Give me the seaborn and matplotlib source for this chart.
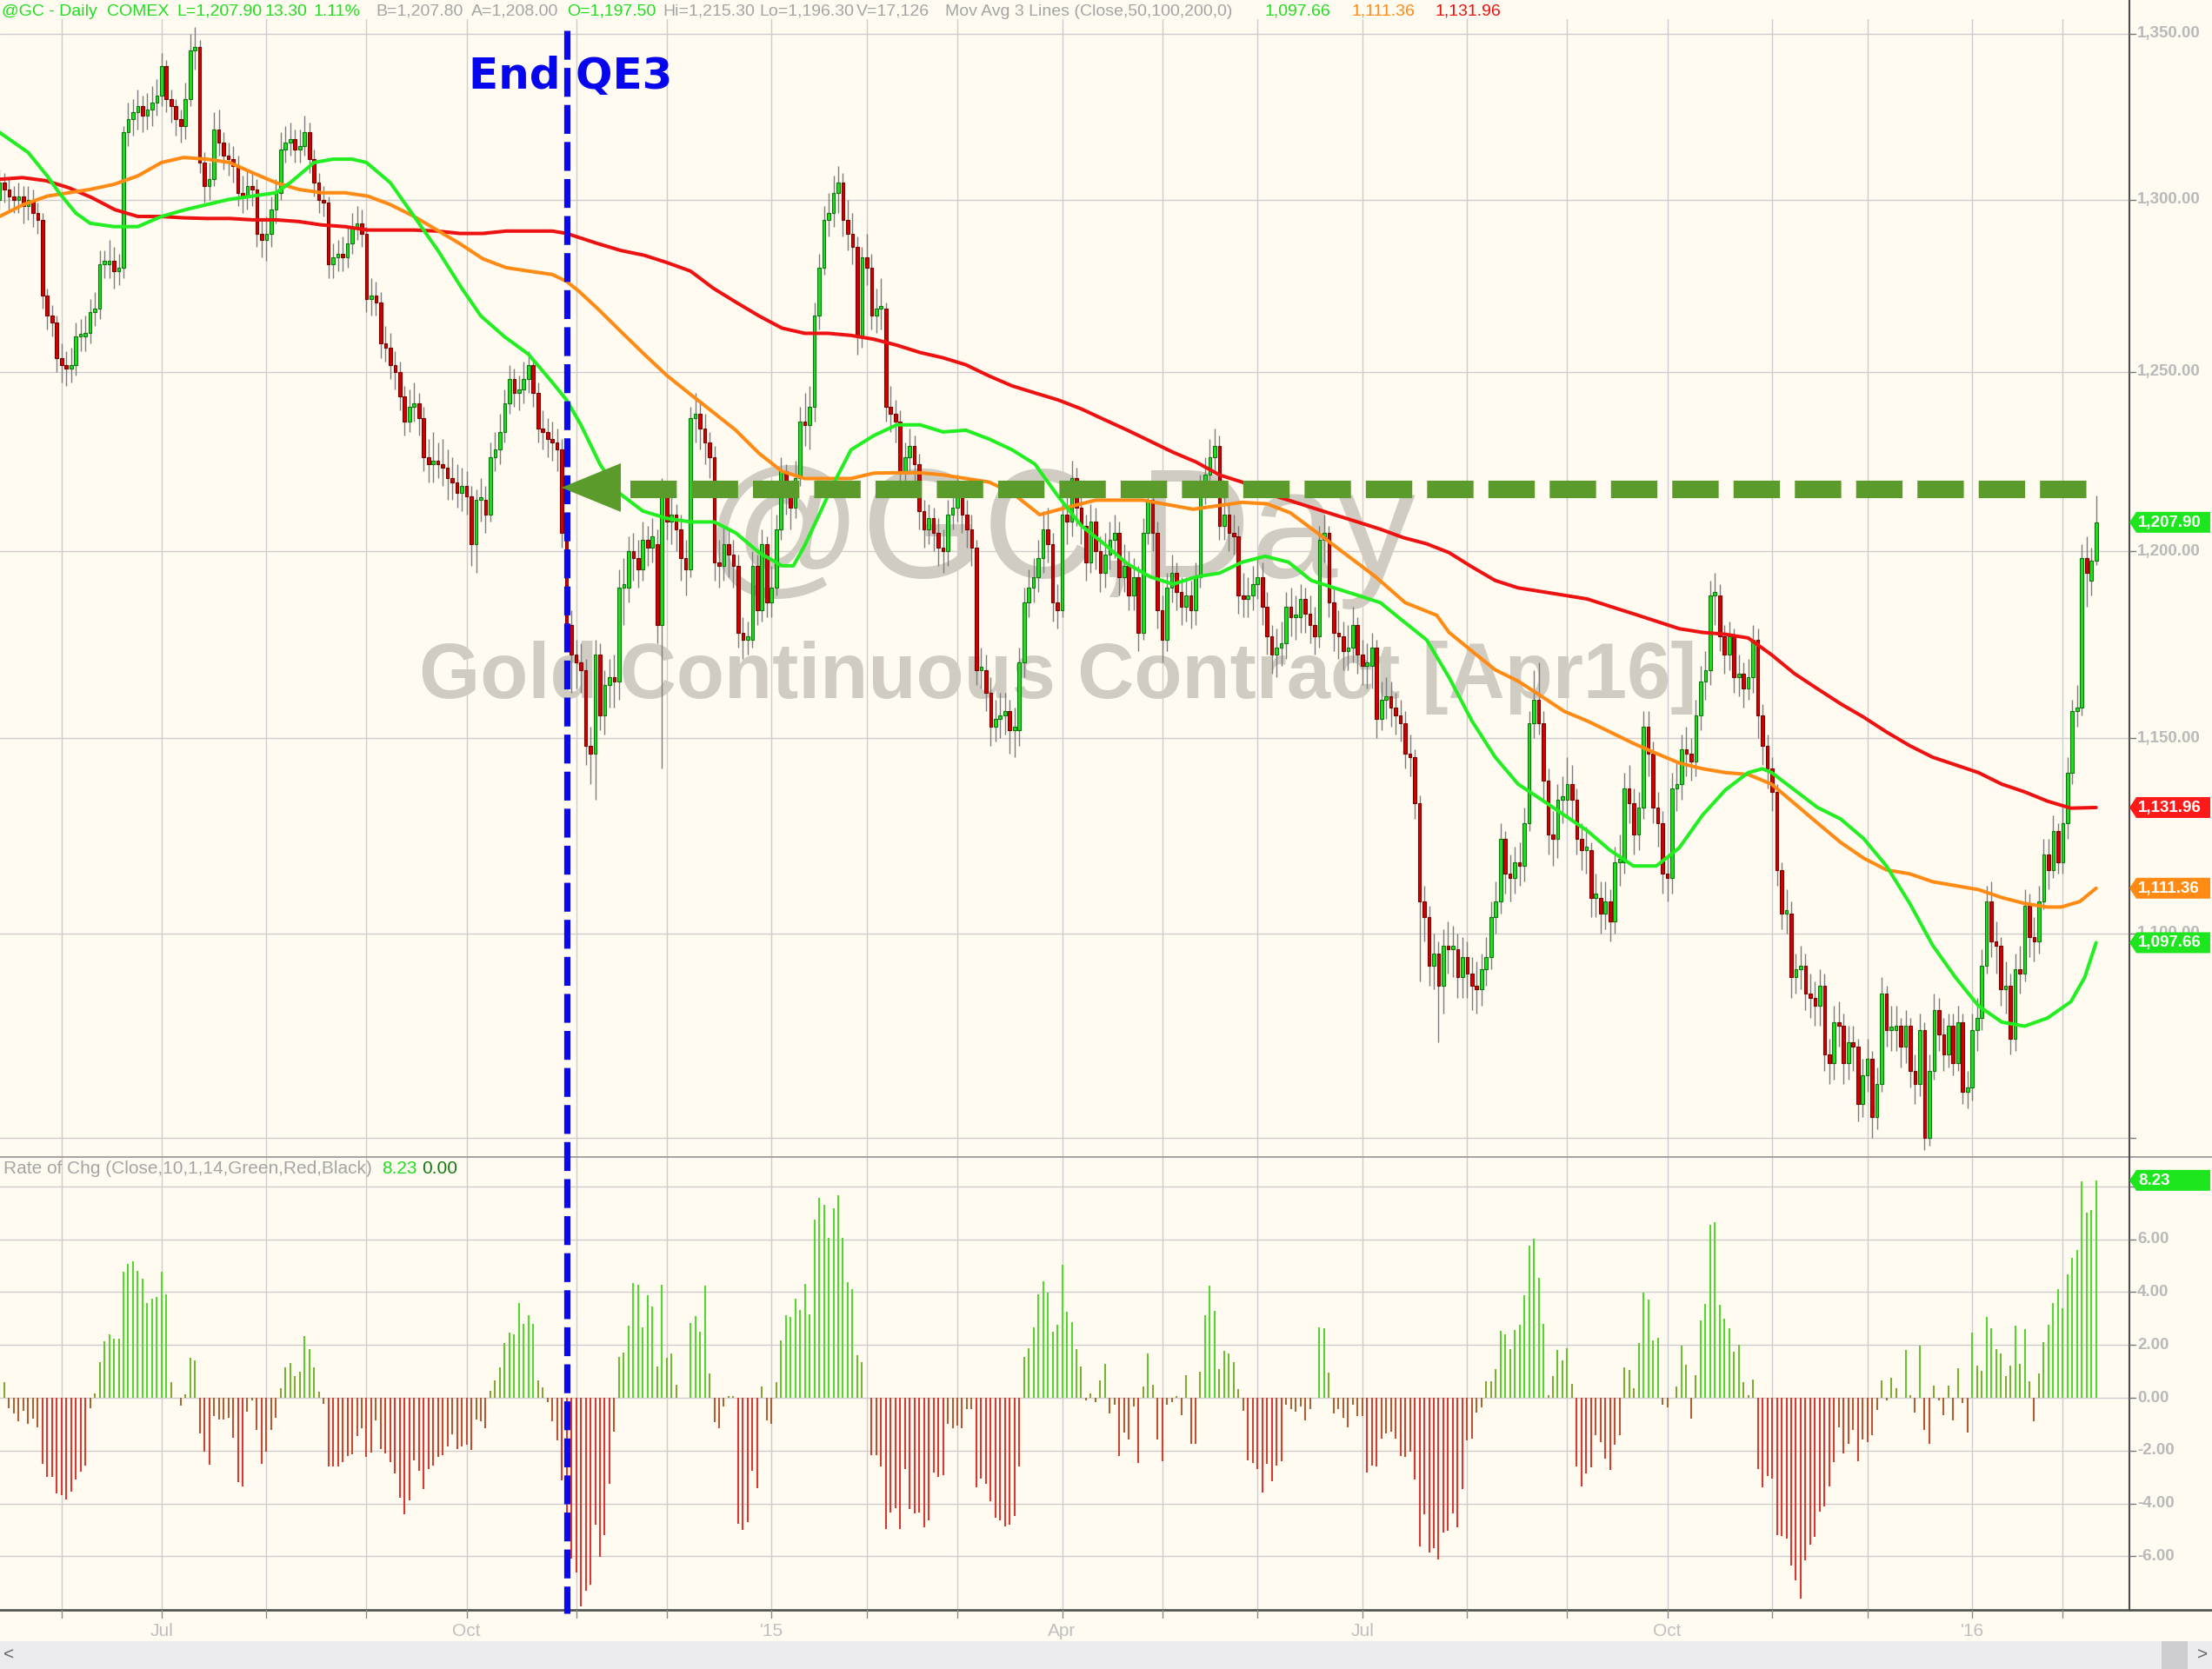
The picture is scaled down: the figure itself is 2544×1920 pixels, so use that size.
import numpy as np
import pandas as pd
import matplotlib
matplotlib.use("Agg")
import matplotlib.pyplot as plt
import seaborn as sns
from matplotlib import font_manager
from matplotlib.patches import Polygon, Rectangle
from matplotlib.colors import to_rgb

sns.set_theme(style="white")
plt.rcParams['font.family'] = ['Liberation Sans', 'DejaVu Sans']

# ---------------- data ----------------
start_date = '2014-05-13'
holidays = ['2014-05-26', '2014-07-04', '2014-09-01', '2014-11-27', '2014-12-25',
            '2015-01-01', '2015-01-19', '2015-02-16', '2015-04-03', '2015-05-25',
            '2015-07-03', '2015-09-07', '2015-11-26', '2015-12-25',
            '2016-01-01', '2016-01-18']

close = [1305,1303,1301,1300,1301,1298,1300,1296,1294,1272,
         1266,1264,1254,1252,1251,1252,1260,1260,1261,1267,
         1268,1281,1281,1282,1279,1280,1320,1324,1326,1328,
         1325,1327,1329,1331,1340,1330,1328,1324,1322,1330,
         1345,1346,1311,1304,1306,1321,1317,1313,1312,1310,
         1302,1301,1304,1303,1290,1288,1290,1297,1302,1315,
         1317,1318,1315,1316,1320,1312,1305,1300,1299,1281,
         1283,1284,1283,1287,1292,1293,1290,1271,1272,1270,
         1258,1257,1252,1250,1243,1236,1240,1241,1237,1226,
         1224,1225,1224,1223,1220,1219,1216,1218,1215,1202,
         1214,1214,1210,1226,1228,1233,1241,1248,1244,1245,
         1248,1252,1244,1234,1233,1231,1230,1228,1205,1180,
         1172,1170,1168,1148,1146,1172,1156,1164,1166,1165,
         1190,1190,1200,1198,1195,1203,1201,1204,1180,1215,
         1208,1210,1206,1198,1195,1237,1238,1234,1230,1226,
         1197,1196,1202,1199,1196,1178,1176,1176,1196,1184,
         1202,1186,1190,1206,1222,1215,1212,1220,1236,1235,
         1240,1266,1280,1294,1296,1302,1305,1294,1290,1286,
         1260,1283,1280,1266,1268,1268,1240,1238,1236,1222,
         1226,1229,1224,1211,1206,1209,1205,1201,1200,1210,
         1212,1216,1210,1206,1201,1168,1168,1162,1153,1155,
         1156,1157,1152,1152,1170,1186,1190,1193,1198,1206,
         1202,1186,1184,1210,1208,1220,1212,1207,1197,1208,
         1200,1194,1199,1203,1205,1193,1196,1188,1193,1178,
         1205,1214,1205,1184,1176,1190,1194,1189,1185,1188,
         1184,1193,1217,1221,1226,1229,1207,1210,1205,1204,
         1188,1187,1188,1191,1193,1185,1177,1172,1174,1175,
         1185,1182,1182,1187,1183,1180,1177,1203,1205,1186,
         1178,1177,1173,1174,1180,1172,1169,1169,1174,1155,
         1160,1161,1158,1156,1154,1146,1145,1133,1108,1104,
         1092,1095,1087,1097,1096,1096,1089,1094,1090,1087,
         1086,1091,1094,1104,1108,1124,1115,1114,1118,1117,
         1128,1154,1160,1154,1139,1125,1124,1134,1134,1138,
         1134,1124,1121,1121,1109,1109,1105,1108,1103,1118,
         1118,1137,1133,1125,1132,1153,1146,1132,1128,1115,
         1114,1137,1138,1147,1146,1144,1156,1165,1168,1188,
         1188,1177,1172,1177,1166,1167,1163,1166,1176,1156,
         1148,1142,1136,1116,1105,1105,1089,1091,1092,1085,
         1084,1082,1087,1070,1068,1078,1077,1068,1073,1072,
         1058,1065,1069,1055,1063,1085,1076,1076,1077,1072,
         1077,1066,1063,1076,1050,1066,1081,1075,1070,1077,
         1068,1078,1061,1062,1076,1079,1092,1108,1098,1097,
         1086,1087,1074,1091,1090,1107,1099,1098,1108,1120,
         1116,1126,1118,1128,1141,1157,1158,1198,1194,1197.5,
         1207.9]

open_ = [1300,1305,1303,1301,1300,1301,1298,1300,1296,1294,
         1272,1266,1264,1254,1252,1251,1252,1260,1260,1261,
         1267,1268,1281,1281,1282,1279,1280,1320,1324,1326,
         1328,1325,1327,1329,1331,1340,1330,1328,1324,1322,
         1330,1345,1346,1311,1304,1306,1321,1317,1313,1312,
         1310,1302,1301,1304,1303,1290,1288,1290,1297,1302,
         1315,1317,1318,1315,1316,1320,1312,1305,1300,1299,
         1281,1283,1284,1283,1287,1292,1293,1290,1271,1272,
         1270,1258,1257,1252,1250,1243,1236,1240,1241,1237,
         1226,1224,1225,1224,1223,1220,1219,1216,1218,1215,
         1202,1214,1214,1210,1226,1228,1233,1241,1248,1244,
         1245,1248,1252,1244,1234,1233,1231,1230,1228,1205,
         1180,1172,1170,1168,1148,1146,1172,1156,1164,1166,
         1165,1190,1190,1200,1198,1195,1203,1201,1202,1180,
         1215,1208,1210,1206,1198,1195,1237,1238,1234,1230,
         1226,1197,1196,1202,1199,1196,1178,1176,1176,1196,
         1184,1202,1186,1190,1206,1222,1215,1212,1220,1236,
         1235,1240,1266,1280,1294,1296,1302,1305,1294,1290,
         1286,1260,1283,1280,1266,1268,1268,1240,1238,1236,
         1222,1226,1229,1224,1211,1206,1209,1205,1201,1200,
         1210,1212,1216,1210,1206,1201,1168,1168,1162,1153,
         1155,1156,1157,1152,1152,1170,1186,1190,1193,1198,
         1206,1202,1186,1184,1210,1208,1220,1212,1207,1197,
         1208,1200,1194,1199,1203,1205,1193,1196,1188,1193,
         1178,1205,1214,1205,1184,1176,1190,1194,1189,1185,
         1188,1184,1193,1217,1221,1226,1229,1207,1210,1205,
         1204,1188,1187,1188,1191,1193,1185,1177,1172,1174,
         1175,1185,1182,1182,1187,1183,1180,1177,1203,1205,
         1186,1178,1177,1173,1174,1180,1172,1169,1169,1174,
         1155,1160,1161,1158,1156,1154,1146,1145,1133,1108,
         1104,1092,1095,1087,1097,1096,1096,1089,1094,1090,
         1087,1086,1091,1094,1104,1108,1124,1115,1114,1118,
         1117,1128,1154,1160,1154,1139,1125,1124,1134,1134,
         1138,1134,1124,1121,1121,1109,1109,1105,1108,1103,
         1118,1118,1137,1133,1125,1132,1153,1146,1132,1128,
         1115,1114,1137,1138,1147,1146,1144,1156,1165,1168,
         1188,1188,1177,1172,1177,1166,1167,1163,1166,1176,
         1156,1148,1142,1136,1116,1105,1105,1089,1091,1092,
         1085,1084,1082,1087,1070,1068,1078,1077,1068,1073,
         1072,1058,1065,1069,1055,1063,1085,1076,1076,1077,
         1072,1077,1066,1063,1076,1050,1066,1081,1075,1070,
         1077,1068,1078,1061,1062,1076,1079,1092,1108,1098,
         1097,1086,1087,1074,1091,1090,1107,1099,1098,1108,
         1120,1116,1126,1118,1128,1141,1157,1158,1198,1192,
         1197.5]

high = [1309,1308,1306,1304,1305,1304,1304,1303,1299,1296,
        1274,1269,1266,1258,1256,1257,1264,1265,1266,1271,
        1273,1285,1285,1288,1286,1284,1322,1329,1330,1333,
        1331,1332,1334,1336,1344,1342,1333,1330,1327,1335,
        1350,1352,1348,1314,1311,1326,1327,1320,1317,1316,
        1313,1307,1309,1308,1306,1294,1295,1301,1306,1320,
        1322,1323,1321,1321,1325,1323,1315,1308,1304,1301,
        1287,1288,1289,1292,1296,1298,1297,1292,1277,1276,
        1273,1263,1261,1256,1253,1246,1245,1247,1244,1240,
        1231,1233,1230,1231,1228,1226,1224,1223,1222,1218,
        1217,1220,1218,1230,1233,1238,1245,1252,1251,1249,
        1253,1256,1254,1247,1239,1237,1236,1234,1231,1208,
        1184,1176,1175,1171,1153,1176,1175,1168,1171,1172,
        1195,1198,1204,1205,1203,1208,1207,1209,1206,1220,
        1219,1215,1213,1210,1203,1240,1244,1242,1238,1233,
        1229,1203,1207,1206,1203,1199,1182,1181,1200,1199,
        1206,1204,1196,1210,1226,1224,1219,1225,1240,1244,
        1246,1270,1284,1298,1302,1307,1310,1308,1300,1296,
        1289,1286,1290,1284,1274,1277,1270,1246,1242,1239,
        1230,1234,1232,1227,1214,1213,1212,1209,1206,1214,
        1217,1221,1219,1214,1210,1203,1174,1172,1166,1160,
        1162,1162,1160,1158,1174,1190,1195,1198,1203,1211,
        1212,1205,1191,1214,1215,1225,1223,1216,1210,1213,
        1212,1204,1205,1208,1210,1208,1202,1200,1198,1196,
        1209,1218,1216,1208,1188,1194,1199,1197,1193,1193,
        1192,1197,1221,1226,1231,1234,1232,1215,1213,1210,
        1207,1194,1193,1196,1198,1197,1189,1180,1179,1181,
        1189,1190,1188,1191,1190,1188,1185,1207,1210,1207,
        1190,1184,1181,1180,1185,1182,1176,1175,1178,1176,
        1165,1166,1165,1162,1160,1157,1151,1147,1135,1112,
        1107,1100,1098,1101,1103,1102,1100,1099,1098,1094,
        1093,1095,1099,1108,1113,1128,1126,1120,1122,1123,
        1132,1157,1168,1170,1157,1142,1131,1138,1140,1145,
        1143,1137,1128,1127,1123,1115,1113,1113,1111,1122,
        1125,1141,1143,1137,1136,1157,1157,1149,1136,1131,
        1120,1141,1144,1151,1153,1150,1160,1169,1173,1192,
        1194,1191,1180,1181,1179,1172,1170,1171,1180,1179,
        1159,1151,1145,1138,1118,1111,1108,1095,1097,1095,
        1090,1088,1091,1090,1074,1082,1083,1080,1077,1077,
        1074,1069,1074,1071,1067,1089,1087,1082,1082,1079,
        1081,1079,1070,1080,1078,1070,1085,1084,1079,1080,
        1080,1082,1080,1066,1080,1084,1096,1112,1113,1103,
        1099,1093,1090,1095,1097,1111,1110,1104,1112,1124,
        1124,1130,1128,1132,1145,1160,1164,1202,1204,1201,
        1215.3]

low = [1297,1299,1297,1296,1296,1293,1294,1292,1290,1268,
       1262,1260,1250,1247,1246,1247,1249,1256,1256,1258,
       1263,1265,1277,1277,1274,1275,1277,1316,1319,1321,
       1320,1321,1322,1325,1328,1326,1323,1319,1317,1318,
       1328,1339,1308,1299,1300,1304,1313,1309,1307,1305,
       1298,1296,1297,1298,1286,1283,1282,1286,1293,1300,
       1311,1313,1311,1311,1313,1308,1301,1296,1295,1277,
       1277,1279,1279,1280,1284,1288,1286,1267,1266,1266,
       1254,1253,1248,1245,1239,1232,1233,1236,1232,1222,
       1219,1219,1220,1218,1214,1214,1212,1211,1210,1196,
       1194,1208,1205,1208,1222,1224,1230,1238,1240,1239,
       1241,1244,1240,1230,1228,1226,1225,1222,1201,1176,
       1162,1163,1162,1143,1138,1134,1152,1151,1158,1158,
       1160,1180,1186,1192,1190,1192,1196,1197,1175,1142,
       1203,1202,1200,1192,1188,1193,1230,1228,1224,1220,
       1192,1190,1192,1193,1190,1174,1171,1172,1174,1180,
       1181,1182,1182,1188,1203,1210,1206,1209,1218,1229,
       1228,1236,1262,1278,1289,1292,1296,1289,1285,1281,
       1255,1257,1275,1262,1261,1262,1236,1233,1230,1218,
       1218,1222,1219,1206,1201,1202,1200,1196,1194,1196,
       1206,1208,1205,1201,1196,1164,1163,1157,1148,1149,
       1150,1151,1146,1145,1148,1166,1182,1186,1189,1194,
       1197,1181,1179,1182,1202,1204,1207,1202,1192,1194,
       1195,1189,1190,1195,1198,1188,1189,1184,1184,1173,
       1176,1202,1200,1179,1170,1173,1186,1184,1180,1181,
       1179,1180,1190,1213,1217,1222,1203,1203,1200,1199,
       1183,1182,1182,1184,1187,1180,1172,1167,1166,1169,
       1171,1177,1176,1178,1178,1175,1172,1174,1197,1182,
       1173,1171,1168,1168,1170,1167,1164,1163,1163,1150,
       1152,1155,1153,1151,1149,1142,1140,1129,1088,1098,
       1087,1086,1073,1080,1090,1089,1084,1084,1084,1081,
       1080,1082,1087,1091,1100,1105,1110,1108,1110,1112,
       1113,1126,1150,1151,1134,1120,1117,1119,1128,1130,
       1129,1120,1116,1115,1104,1104,1100,1101,1098,1100,
       1112,1115,1128,1120,1121,1129,1140,1128,1122,1110,
       1108,1110,1131,1134,1140,1139,1140,1152,1160,1164,
       1180,1173,1167,1168,1162,1161,1158,1160,1162,1150,
       1143,1137,1131,1112,1101,1100,1084,1085,1086,1081,
       1079,1077,1077,1066,1063,1064,1072,1063,1064,1066,
       1054,1055,1061,1050,1052,1061,1072,1071,1071,1067,
       1068,1062,1058,1060,1047,1048,1064,1071,1066,1067,
       1065,1066,1058,1057,1059,1071,1076,1090,1094,1090,
       1082,1080,1070,1071,1085,1088,1094,1093,1095,1106,
       1111,1114,1115,1115,1124,1138,1153,1156,1185,1188,
       1196.3]

# 10-day rate of change (%)
roc = [0.7,0.6,-0.4,-0.6,-0.9,-0.5,-1.0,-0.8,-1.1,-2.5,
       -2.99,-2.99,-3.61,-3.69,-3.84,-3.54,-3.08,-2.78,-2.55,-0.39,
       0.16,1.34,2.15,2.40,2.24,2.24,4.76,5.08,5.15,4.81,
       4.50,3.59,3.75,3.82,4.77,3.91,0.61,0.00,-0.30,0.15,
       1.51,1.43,-1.35,-2.03,-2.54,-0.68,-0.83,-0.83,-0.76,-1.50,
       -3.20,-3.34,-0.53,-0.08,-1.23,-2.50,-2.05,-1.22,-0.76,0.38,
       1.15,1.31,0.84,1.00,2.33,1.86,1.16,0.23,-0.23,-2.59,
       -2.58,-2.58,-2.43,-2.20,-2.12,-1.45,-1.15,-2.23,-2.08,-0.86,
       -1.95,-2.10,-2.42,-2.87,-3.79,-4.41,-3.88,-2.36,-2.75,-3.46,
       -2.70,-2.55,-2.24,-2.16,-1.85,-1.38,-1.94,-1.85,-1.78,-1.96,
       -0.82,-0.90,-1.14,0.25,0.66,1.15,2.06,2.46,2.39,3.58,
       2.80,3.13,2.81,0.65,0.41,-0.16,-0.89,-1.60,-3.13,-5.22,
       -6.09,-6.60,-7.90,-7.30,-7.06,-4.79,-6.02,-5.21,-3.24,-1.27,
       1.54,1.71,2.74,4.36,4.28,2.65,3.89,3.44,1.20,4.29,
       1.51,1.68,0.50,0.00,0.00,2.83,3.08,2.49,4.24,0.91,
       -0.91,-1.16,-0.33,0.08,0.08,-4.77,-5.01,-4.70,-2.76,-3.43,
       0.42,-0.84,-1.00,0.58,2.17,3.14,3.06,3.74,3.34,4.31,
       3.16,6.75,7.56,7.30,6.06,7.16,7.67,6.07,4.37,4.13,
       1.61,1.34,0.00,-2.16,-2.16,-2.61,-4.98,-4.33,-4.19,-4.98,
       -2.70,-4.21,-4.38,-4.34,-4.89,-4.65,-2.82,-2.99,-2.91,-0.98,
       -1.14,-1.06,-1.14,-0.41,-0.41,-3.39,-3.07,-3.25,-3.92,-4.55,
       -4.62,-4.85,-4.79,-4.48,-2.58,1.54,1.88,2.67,3.90,4.42,
       3.98,2.51,2.78,5.03,3.25,2.87,1.85,1.17,-0.08,0.17,
       -0.17,0.67,1.27,-0.58,-0.25,-2.21,-1.32,-1.57,-0.33,-2.48,
       0.42,1.68,0.50,-1.58,-2.41,-0.25,-0.17,0.08,-0.67,0.85,
       -1.74,-1.73,1.00,3.13,4.25,3.28,1.09,1.77,1.69,1.35,
       0.34,-0.50,-2.38,-2.46,-2.69,-3.58,-2.49,-3.14,-2.57,-2.41,
       -0.25,-0.42,-0.51,-0.34,-0.84,-0.42,0.00,2.65,2.64,0.94,
       -0.59,-0.42,-0.76,-1.10,-0.25,-0.68,-0.68,-2.83,-2.57,-2.61,
       -1.53,-1.36,-1.28,-1.53,-2.20,-2.22,-2.05,-3.08,-5.62,-4.42,
       -5.86,-5.68,-6.13,-5.10,-5.03,-4.36,-4.89,-3.44,-1.62,-1.54,
       -0.55,-0.37,0.64,0.64,1.09,2.55,2.39,1.83,2.57,2.76,
       3.87,5.77,6.03,4.53,2.80,0.09,0.81,1.80,1.43,1.88,
       0.53,-2.60,-3.36,-2.86,-2.63,-1.42,-1.69,-2.29,-2.73,-1.76,
       -1.41,1.16,1.07,0.36,2.07,3.97,3.71,2.17,2.27,-0.27,
       -0.36,0.00,0.44,1.96,1.24,-0.78,0.87,2.92,3.55,6.55,
       6.64,3.52,2.99,2.62,1.75,2.01,0.61,0.09,0.68,-2.69,
       -3.37,-2.97,-3.07,-5.18,-5.23,-5.31,-6.36,-6.90,-7.60,-6.14,
       -5.57,-5.25,-4.31,-4.12,-3.35,-2.44,-1.10,-2.11,-1.74,-1.20,
       -2.40,-1.57,-1.66,-1.40,-0.47,0.65,-0.09,0.75,0.37,0.00,
       1.80,0.09,-0.56,1.99,-1.22,-1.75,0.46,-0.09,-0.65,0.47,
       -0.84,1.13,-0.19,-1.30,2.48,1.22,1.02,3.07,2.62,1.86,
       1.69,0.83,1.23,2.73,1.30,2.59,0.64,-0.90,0.91,2.10,
       2.76,3.59,4.10,3.39,4.68,5.30,5.60,8.20,7.00,7.10,
       8.23]

# moving averages (bar index, value)
ma50_x = [0,6,10,12.5,16,19,24,29,34,39,43.5,48,53,58,61,66,70,74,77,82,87,92,97,101,106,111,116,119,122,126,130,135,140,145,150,154.5,159.4,164.2,166.6,169,172,174.8,178.7,183.5,188.3,193.2,198,202.8,207.7,212.5,217.3,222.2,227,231.8,236.7,241.5,246.3,251.1,256,260.8,265.6,270.5,275.3,280.1,285,289.8,294.6,299.5,304.2,309,313.9,318.7,323.6,328.4,333.2,338,342.9,347.7,352.5,357.4,362.2,367,370,371.9,376.7,381.5,386.4,391.2,396,400.9,405.7,410.5,415.3,420.2,425,429.8,434.7,437.6,440]
ma50_y = [1320,1314,1307,1302,1296,1293,1292,1292,1295,1297,1298.5,1300,1301,1302,1305,1311,1312,1312,1311,1305,1295,1285,1274,1266,1260,1255,1247,1242,1235,1224,1216,1211,1209,1208,1208,1205,1199.6,1196,1196,1201.6,1210,1218,1228,1232,1235,1235,1233,1233.5,1231,1228,1224,1215,1207,1202,1196.5,1193,1191,1193,1194,1197,1198.6,1197,1192,1190,1188,1186,1181,1176,1166,1154.5,1145,1138,1134,1130,1126,1121,1117,1117,1121.6,1130,1136.5,1141,1142,1141,1136.5,1132,1129,1124,1117,1107.5,1097,1089,1082,1078,1077,1079,1083,1089,1097.66]

ma100_x = [0,5,10,14.5,19,24,29,34,38.6,43.5,48.3,53,58,62.8,67.6,72.5,77.3,82,87,91.8,96.6,101.4,106.3,111,116,119,121.7,125.6,130.4,135.3,140,145,149.8,154.5,159.4,164.2,169,173.9,178.7,183.5,188.3,193.2,198,202.8,207.7,212.5,218.3,224,230,240,250.5,260.7,266,270.9,278.6,288.8,295,301.6,304.2,309,313.9,318.7,323.6,328.4,333.2,338,342.9,347.7,352.5,357.4,362.2,367,371.9,376.7,381.5,386.4,391.2,396,400.9,405.7,410.5,415.3,420.2,425,429.8,432.7,436.6,440]
ma100_y = [1295,1298.5,1301,1302,1303,1304.5,1307,1311,1312.5,1312,1311,1308,1305,1303,1302,1302,1301,1298.5,1295,1291,1287,1282.6,1280,1279,1278,1276,1273,1268,1261.5,1255,1249,1243.6,1238.5,1233.5,1227,1222,1220,1220,1220,1221.5,1221.6,1221.6,1221,1220,1219,1216,1210,1212,1214,1214,1211.5,1213.4,1213,1210.5,1203,1193,1186,1182.6,1178,1173,1168,1165,1161,1157,1154.5,1151.6,1148.6,1146,1143.5,1142,1141,1140.5,1138,1133,1128,1123,1119,1116,1115,1113,1112,1111,1109,1107.5,1106.6,1106.6,1108,1111.36]

ma200_x = [0,4.8,9.7,14.5,19.3,24.2,29,33.8,38.6,43.5,48.3,53.1,58,62.8,67.6,72.5,77.3,82,87,91.8,96.6,101.4,106.3,111,116,119,125.6,130.4,135.3,140,145,149.8,154.5,159.4,164.2,169,173.9,178.7,183.5,188.3,193.2,198,202.8,207.7,212.5,217.3,222.2,227,231.8,236.7,241.5,246.3,251.1,256,260.8,265.6,270.5,275.3,280.1,285,289.8,294.6,299.5,304.2,309,313.9,318.7,323.6,328.4,333.2,338,342.9,347.7,352.5,357.4,362.2,367,371.9,376.7,381.5,386.4,391.2,396,400.9,405.7,410.5,415.3,420.2,425,429.8,434.7,440]
ma200_y = [1306,1306.5,1305.6,1303.5,1300.6,1297,1295,1295,1294.6,1294.4,1294.4,1294,1294,1293.5,1292.5,1292,1291,1291,1291,1290.7,1290,1290,1290.7,1290.7,1290.7,1290,1287,1285,1283.6,1281.5,1279,1274,1270,1266,1262.5,1261,1261,1260.4,1259.3,1257.6,1255.5,1254,1252,1248.8,1246,1244,1242,1239.5,1236.5,1233.5,1230.4,1227.3,1224.6,1221,1219,1216,1214,1212,1210,1208,1206,1203.7,1202,1199.6,1195.7,1192,1190,1189,1188,1187,1185,1183,1181,1179,1178,1177.5,1176.5,1172,1167,1163,1159,1155.5,1151.6,1148,1145,1143,1141,1138,1136,1133.6,1131.8,1131.96]

price_ticks = [1050, 1100, 1150, 1200, 1250, 1300, 1350]
roc_ticks = [-6, -4, -2, 0, 2, 4, 6, 8]
qe3_bar = 119
arrow_level = 1217

header = [("@GC - Daily", 'g'), ("COMEX", 'g'), ("L=1,207.90", 'g'), ("13.30", 'g'),
          ("1.11%", 'g'), ("B=1,207.80", 'k'), ("A=1,208.00", 'k'), ("O=1,197.50", 'g'),
          ("Hi=1,215.30", 'k'), ("Lo=1,196.30", 'k'), ("V=17,126", 'k'),
          ("Mov Avg 3 Lines (Close,50,100,200,0)", 'k'),
          ("1,097.66", 'g'), ("1,111.36", 'o'), ("1,131.96", 'r')]
header_x = [2, 123, 203, 305, 360, 432, 542, 652, 762, 873, 985, 1087, 1455, 1554, 1650]

# ---------------- geometry ----------------
W, H, DPI = 2544, 1920, 100
BG = '#fffbf0'
GRID = '#cdcdcd'
LBL = '#b9b9b9'
P_TOP, P_BOT = 22, 1330
R_TOP, R_BOT = 1332, 1851
AX_R = 2448
BAR_PX = 5.48
X0 = 0.5 / BAR_PX
X1 = (AX_R + 0.5) / BAR_PX
PLO, PHI = 1045.6, 1354.5
RLO, RHI = -7.99, 9.08

font_names = {f.name for f in font_manager.fontManager.ttflist}
if 'Liberation Sans Narrow' in font_names:
    HFONT, HSIZE = 'Liberation Sans Narrow', 15.5
else:
    HFONT, HSIZE = 'Liberation Sans', 14

n = len(close)
idx = np.arange(n)
o = np.array(open_, float); c = np.array(close, float)
h = np.array(high, float); l = np.array(low, float)

dates = pd.bdate_range(start=start_date, periods=n, freq='C', holidays=holidays)
month_starts = [i for i in range(1, n) if dates[i].month != dates[i - 1].month]

fig = plt.figure(figsize=(W / DPI, H / DPI), dpi=DPI, facecolor=BG)
ax = fig.add_axes([0, 1 - P_BOT / H, AX_R / W, (P_BOT - P_TOP) / H])
ax2 = fig.add_axes([0, 1 - R_BOT / H, AX_R / W, (R_BOT - R_TOP) / H])
ov = fig.add_axes([0, 0, 1, 1])
ov.set_xlim(0, W); ov.set_ylim(H, 0); ov.axis('off'); ov.set_zorder(10)

for a in (ax, ax2):
    a.set_facecolor(BG)
    for s in a.spines.values():
        s.set_visible(False)
    a.set_xlim(X0, X1)
    a.set_xticks([]); a.set_yticks([])

ax.set_yscale('log')
ax.set_ylim(PLO, PHI)
ax.yaxis.set_major_locator(matplotlib.ticker.NullLocator())
ax.yaxis.set_minor_locator(matplotlib.ticker.NullLocator())
ax2.set_ylim(RLO, RHI)


def xpx(i):
    return (i - X0) / (X1 - X0) * AX_R


def ppx(p):
    return P_BOT - (np.log(p) - np.log(PLO)) / (np.log(PHI) - np.log(PLO)) * (P_BOT - P_TOP)


def rpx(v):
    return R_BOT - (v - RLO) / (RHI - RLO) * (R_BOT - R_TOP)


# grid
for p in price_ticks:
    ax.axhline(p, color=GRID, lw=1.0, zorder=1)
for v in roc_ticks:
    ax2.axhline(v, color=GRID, lw=1.0, zorder=1)
for m in month_starts:
    ax.axvline(m, color=GRID, lw=1.0, zorder=1)
    ax2.axvline(m, color=GRID, lw=1.0, zorder=1)

# watermark
wm = '#d0ccc2'
ax.text(810, 664, "@GC,Day", transform=ov.transData, fontsize=129, color=wm,
        family='Liberation Sans', ha='left', va='baseline', zorder=1.5)
ax.text(482, 803, "Gold Continuous Contract [Apr16]", transform=ov.transData, fontsize=65,
        color=wm, family='Liberation Sans', fontweight='bold', ha='left', va='baseline', zorder=1.5)

# candles
up = c >= o
ax.vlines(idx, l, h, color='#7d7d7d', lw=1.0, zorder=3)
blo = np.minimum(o, c)
bh = np.maximum(np.abs(c - o), 0.9)
ax.bar(idx[up], bh[up], bottom=blo[up], width=0.66, color='#22dd22', edgecolor='#0b760b',
       linewidth=0.8, zorder=4)
ax.bar(idx[~up], bh[~up], bottom=blo[~up], width=0.66, color='#d00000', edgecolor='#7a0000',
       linewidth=0.8, zorder=4)

# moving averages
sns.lineplot(x=ma200_x, y=ma200_y, ax=ax, color='#ee1111', lw=2.9, zorder=5,
             estimator=None, sort=False, legend=False)
sns.lineplot(x=ma100_x, y=ma100_y, ax=ax, color='#ff8a14', lw=2.9, zorder=5,
             estimator=None, sort=False, legend=False)
sns.lineplot(x=ma50_x, y=ma50_y, ax=ax, color='#22ee22', lw=2.9, zorder=5,
             estimator=None, sort=False, legend=False)
ax.set_xlim(X0, X1); ax.set_ylim(PLO, PHI)
ax.set_xlabel(''); ax.set_ylabel('')


# rate of change bars
def roc_color(v):
    t = min(abs(v) / 3.0, 1.0)
    if v >= 0:
        a_, b_ = np.array(to_rgb('#8f9a38')), np.array(to_rgb('#55d633'))
    else:
        a_, b_ = np.array(to_rgb('#9a7038')), np.array(to_rgb('#d63a33'))
    return tuple(a_ + (b_ - a_) * t)


ax2.vlines(idx, 0, roc, colors=[roc_color(v) for v in roc], lw=1.5, zorder=3)
ax2.set_xlim(X0, X1); ax2.set_ylim(RLO, RHI)

# ---------------- overlay ----------------
colmap = {'g': '#22dd22', 'k': '#a4a4a4', 'o': '#ff8a14', 'r': '#ee1111'}
for (txt, cc), xx in zip(header, header_x):
    ov.text(xx, 13, txt, color=colmap[cc], fontsize=HSIZE, ha='left', va='center',
            family=HFONT)

ov.text(4, 1345, "Rate of Chg (Close,10,1,14,Green,Red,Black)", color='#a4a4a4', fontsize=15,
        ha='left', va='center')
ov.text(439, 1345, "8.23", color='#22dd22', fontsize=15, ha='left', va='center')
ov.text(485, 1345, "0.00", color='#137a13', fontsize=15, ha='left', va='center')

# frame lines
ov.plot([0, W], [1331, 1331], color='#8c8c8c', lw=1.1)
ov.plot([0, W], [1852, 1852], color='#555555', lw=2.0)
ov.plot([AX_R + 1, AX_R + 1], [0, 1852], color='#4d4d4d', lw=1.5)

# price labels
for p in price_ticks:
    y = ppx(p)
    ov.plot([AX_R + 1, AX_R + 8], [y, y], color='#777777', lw=1.0)
    if p != 1050:
        ov.text(2458, y, f"{p:,.2f}", color=LBL, fontsize=13.5, fontweight='bold',
                ha='left', va='center')
for v in roc_ticks:
    y = rpx(v)
    ov.plot([AX_R + 1, AX_R + 8], [y, y], color='#777777', lw=1.0)
    if v != 8:
        ov.text(2458, y, f"{v:.2f}", color=LBL, fontsize=13.5, fontweight='bold',
                ha='left', va='center')


def badge(y, txt, col):
    poly = Polygon([(AX_R + 1, y), (AX_R + 9, y - 12), (2542, y - 12), (2542, y + 12),
                    (AX_R + 9, y + 12)], closed=True, facecolor=col, edgecolor='none', zorder=12)
    ov.add_patch(poly)
    ov.text(2459, y + 0.5, txt, color='white', fontsize=13.5, fontweight='bold',
            ha='left', va='center', zorder=13)


badge(ppx(close[-1]), f"{close[-1]:,.2f}", '#1ee61e')
badge(ppx(ma200_y[-1]), f"{ma200_y[-1]:,.2f}", '#ff1a1a')
badge(ppx(ma100_y[-1]), f"{ma100_y[-1]:,.2f}", '#ff8a14')
badge(ppx(ma50_y[-1]), f"{ma50_y[-1]:,.2f}", '#1ee61e')
badge(rpx(roc[-1]), f"{roc[-1]:.2f}", '#1ee61e')

# x axis ticks & labels
qnames = {4: 'Apr', 7: 'Jul', 10: 'Oct'}
for m in month_starts:
    x = xpx(m)
    ov.plot([x, x], [1852, 1861], color='#8c8c8c', lw=1.0)
    mo = dates[m].month
    if mo in (1, 4, 7, 10):
        lab = qnames[mo] if mo != 1 else "'" + dates[m].strftime('%y')
        ov.text(x, 1877, lab, color='#bfbfbf', fontsize=15, ha='center', va='center')

# scrollbar
ov.add_patch(Rectangle((0, 1888), W, 32, facecolor='#ebebee', edgecolor='none'))
ov.add_patch(Rectangle((2486, 1888), 30, 32, facecolor='#cdcdd1', edgecolor='none'))
ov.text(10, 1904, "<", color='#666666', fontsize=15, ha='center', va='center')
ov.text(2533, 1904, ">", color='#666666', fontsize=15, ha='center', va='center')

# End QE3 annotation
xq = xpx(qe3_bar)
ov.plot([xq, xq], [35, 1856], color='#0a0af0', lw=5.2, dashes=(4.6, 1.3),
        solid_capstyle='butt', dash_capstyle='butt', zorder=9)
ov.text(539, 102, "End QE3", color='#0505ee', fontsize=36, fontweight='bold',
        family='DejaVu Sans', ha='left', va='baseline', zorder=9)

# green dashed arrow back to the QE3 level
ya = ppx(arrow_level)
ov.plot([725, xpx(440.6)], [ya, ya], color='#5b9b2b', lw=14.5, dashes=(2.65, 0.85),
        solid_capstyle='butt', dash_capstyle='butt', zorder=9)
ov.add_patch(Polygon([(xq - 6, ya - 2), (714, ya - 30), (714, ya + 26)], closed=True,
                     facecolor='#5b9b2b', edgecolor='none', zorder=9))

fig.savefig('out.png', dpi=DPI, facecolor=BG)
